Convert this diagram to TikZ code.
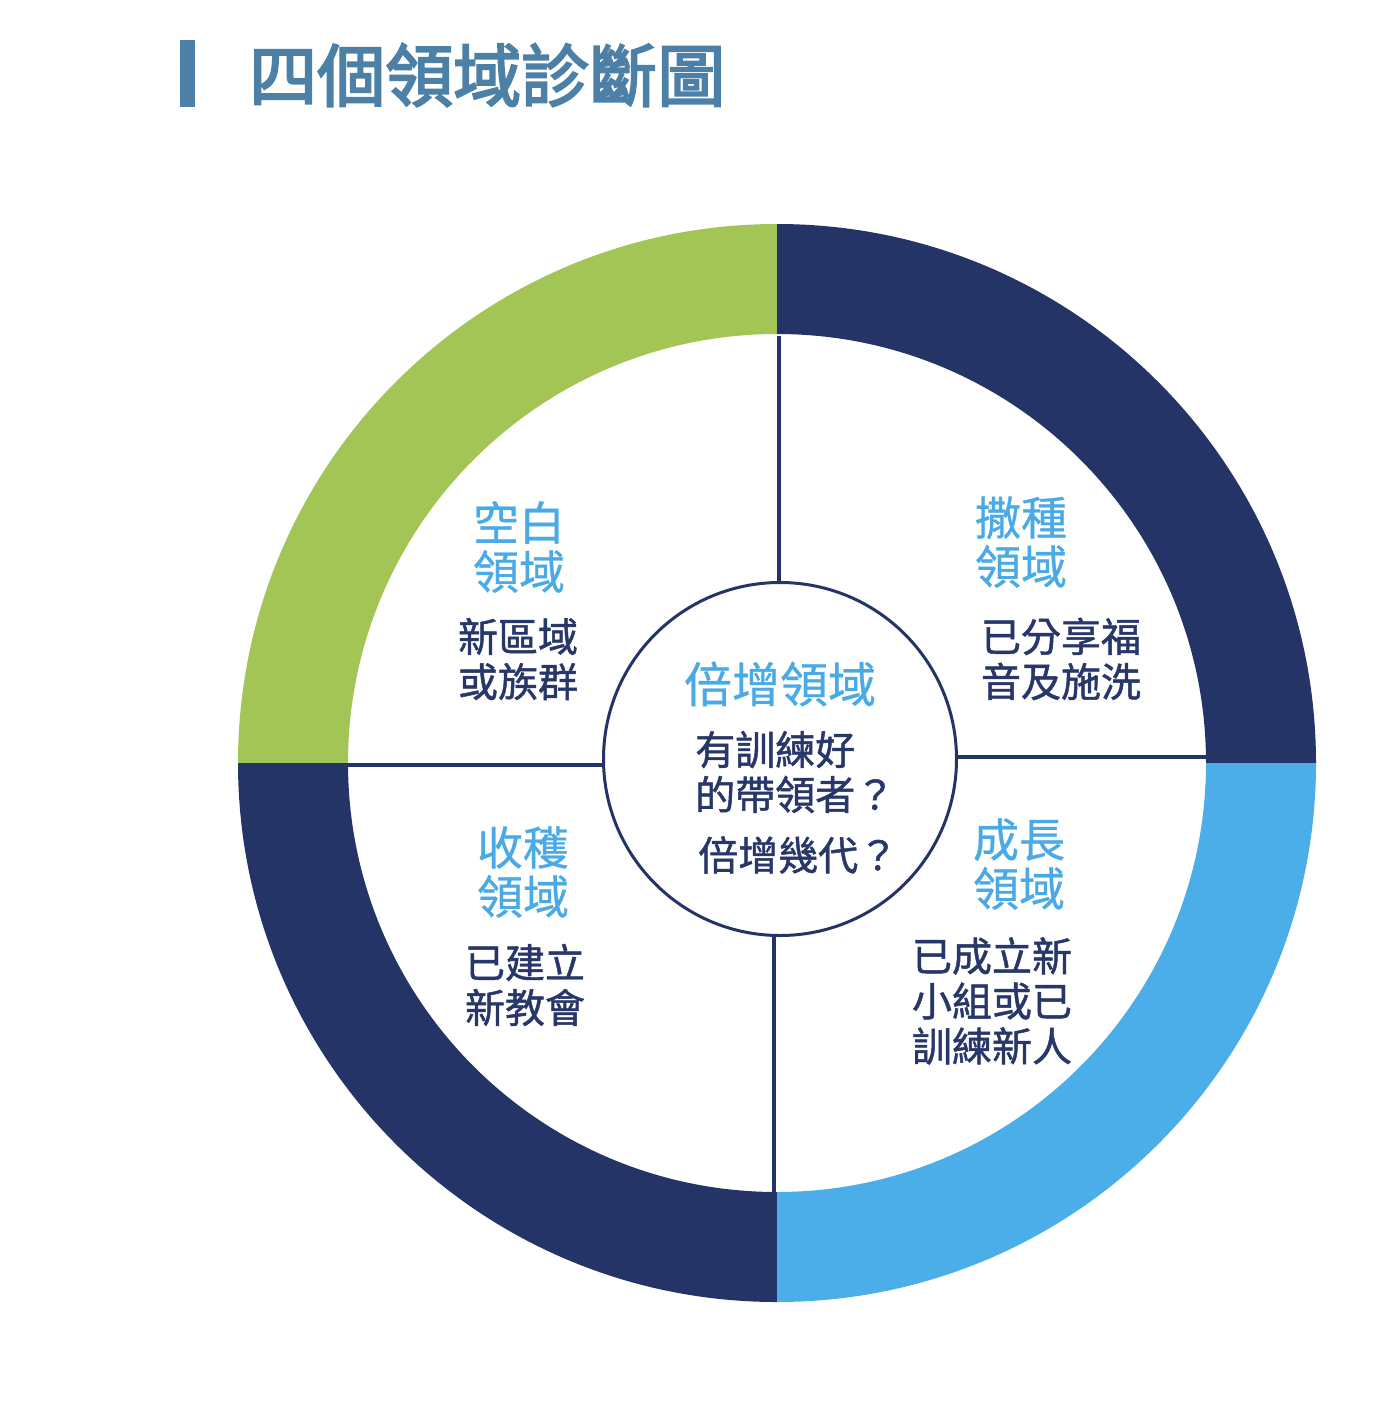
\documentclass[tikz,border=0pt]{standalone}
\usepackage{fontspec}
\newfontfamily\cjk{Noto Sans CJK TC}[FakeBold=0.6]
\newfontfamily\cjkmed{Noto Sans CJK TC}[FakeBold=1.2]
\newfontfamily\cjkbold{Noto Sans CJK TC}[FakeBold=3]
\usetikzlibrary{calc}
\definecolor{ringgreen}{RGB}{162,197,86}
\definecolor{ringnavy}{RGB}{37,52,102}
\definecolor{ringsky}{RGB}{75,174,232}
\definecolor{labelblue}{RGB}{74,170,230}
\definecolor{textnavy}{RGB}{40,55,105}
\definecolor{titleblue}{RGB}{76,128,166}
\tikzset{
  zonelabel/.style={text=labelblue, align=center, inner sep=0pt,
    font=\cjk\fontsize{46}{49}\selectfont},
  zonetext/.style={text=textnavy, align=center, inner sep=0pt,
    font=\cjkmed\fontsize{40}{45}\selectfont},
  divider/.style={draw=ringnavy, line width=3.6pt},
  hubstyle/.style={circle, draw=ringnavy, line width=3pt, fill=white,
    minimum size=353pt, inner sep=0pt},
}
\newcommand{\ringsector}[3]{%
  \fill[#1] ($(C)+(#2:539)$) arc[start angle=#2, end angle=#3, radius=539]
    -- ($(C)+(#3:429)$) arc[start angle=#3, end angle=#2, radius=429] -- cycle;}
\begin{document}
\begin{tikzpicture}[x=1pt,y=1pt]
\useasboundingbox[fill=white] (0,0) rectangle (1374,-1428);
\coordinate (C) at (777,-763);

% title
\fill[titleblue] (180,-40) rectangle (195,-107);
\node[anchor=west, inner sep=0pt, text=titleblue,
  font=\cjkbold\fontsize{68}{72}\selectfont] (title) at (249,-75) {四個領域診斷圖};

% hub
\node[hubstyle] (hub) at (780,-759) {};

% dividers
\coordinate (tin) at (779,-336);
\coordinate (bin) at (774,-1193);
\coordinate (lin) at (346,-765);
\coordinate (rin) at (1208,-757);
\draw[divider] (tin) -- (tin |- hub.north);
\draw[divider] (bin) -- (bin |- hub.south);
\draw[divider] (lin) -- (lin -| hub.west);
\draw[divider] (rin) -- (rin -| hub.east);

% ring
\ringsector{ringgreen}{90}{180}
\ringsector{ringnavy}{0}{90}
\ringsector{ringnavy}{180}{270}
\ringsector{ringsky}{270}{360}

% quadrant texts
\node[zonelabel] (l1) at (519,-547) {空白\\領域};
\node[zonetext] (t1) at (518,-659) {新區域\\或族群};
\node[zonelabel] (l2) at (1021,-542) {撒種\\領域};
\node[zonetext] (t2) at (1061,-659) {已分享福\\音及施洗};
\node[zonelabel] (l3) at (523,-872) {收穫\\領域};
\node[zonetext] (t3) at (525,-985) {已建立\\新教會};
\node[zonelabel] (l4) at (1019,-864) {成長\\領域};
\node[zonetext] (t4) at (992,-1001) {已成立新\\小組或已\\訓練新人};

% hub texts
\node[text=labelblue, inner sep=0pt, font=\cjk\fontsize{48}{50}\selectfont] (hl) at (780,-684) {倍增領域};
\node[zonetext, align=left, anchor=west] (h1) at (695,-772) {有訓練好\\的帶領者？};
\node[zonetext, anchor=west] (h2) at (698,-855) {倍增幾代？};
\end{tikzpicture}
\end{document}
